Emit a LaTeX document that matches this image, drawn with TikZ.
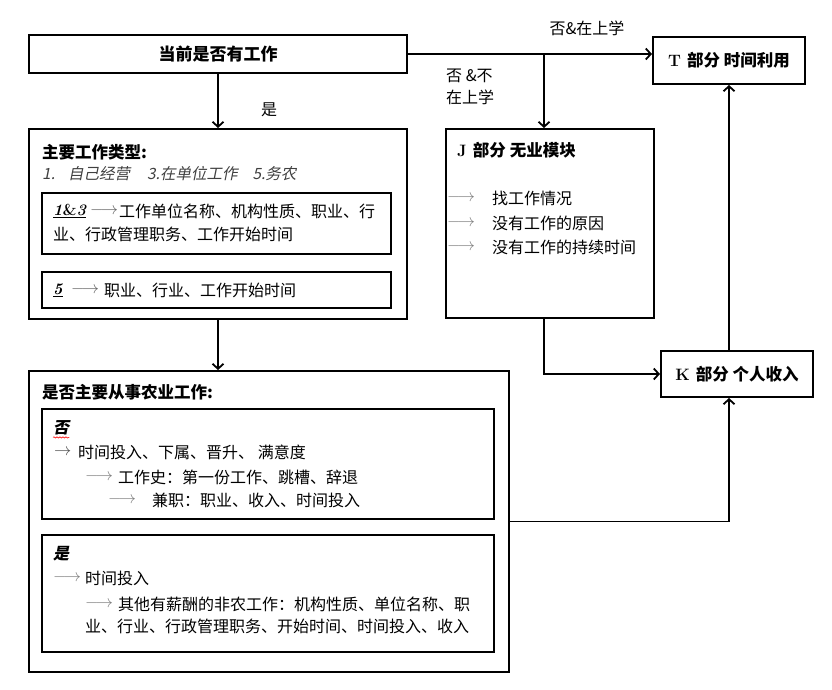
\documentclass[tikz,border=0pt]{standalone}
\usepackage{fontspec}
\newfontfamily\cjk{Noto Sans CJK SC}
\newfontfamily\cjkslant[FakeSlant=0.2]{Noto Sans CJK SC}
\usetikzlibrary{arrows.meta,decorations.pathmorphing}
\tikzset{
  box/.style={rectangle,draw,line width=2pt,inner sep=0pt},
  subbox/.style={rectangle,draw,line width=1.1pt,inner sep=0pt},
  txt/.style={anchor=west,inner sep=0pt,font=\cjk\fontsize{16}{22}\selectfont},
  head/.style={anchor=west,inner sep=0pt,font=\cjk\bfseries\fontsize{16.5}{20}\selectfont},
  arr/.style={line width=1.8pt,-{Straight Barb[length=5pt,width=11pt,line width=1.8pt]}},
  garrow/.style={txt,text=gray}
}

\begin{document}
\begin{tikzpicture}[x=1pt,y=-1pt]
    \useasboundingbox (0,0) rectangle (832,690);

    % main boxes
    \node[box,minimum width=378pt,minimum height=38pt,font=\cjk\bfseries\fontsize{17}{20}\selectfont] (now) at (218,54) {当前是否有工作};
    \node[box,minimum width=378pt,minimum height=190pt] (type) at (218,224) {};
    \node[subbox,minimum width=349pt,minimum height=61pt] (t13) at (216.5,223.5) {};
    \node[subbox,minimum width=349pt,minimum height=36pt] (t5) at (216.5,290) {};
    \node[box,minimum width=480pt,minimum height=301pt] (agri) at (269,521.5) {};
    \node[subbox,minimum width=452pt,minimum height=110pt] (nonag) at (268,464) {};
    \node[subbox,minimum width=452pt,minimum height=117pt] (isag) at (268,593.5) {};
    \node[box,minimum width=208pt,minimum height=189pt] (J) at (550,223.5) {};
    \node[box,minimum width=152pt,minimum height=47pt,font=\cjk\bfseries\fontsize{16.5}{20}\selectfont] (T) at (729,60.5) {\rmfamily\bfseries T\ \cjk 部分 时间利用};
    \node[box,minimum width=152pt,minimum height=46pt,font=\cjk\bfseries\fontsize{16.5}{20}\selectfont] (K) at (737,374) {\rmfamily\bfseries K\ \cjk 部分 个人收入};

    % work type
    \node[head] (typehead) at (42,152) {主要工作类型:};
    \node[txt,text=black!75,font=\cjkslant\fontsize{15.5}{20}\selectfont] (typelist) at (42,174) {1.\hspace{13pt}自己经营\hspace{17pt}3.在单位工作\hspace{15pt}5.务农};
    \node[txt] (t13a) at (53,211) {\underline{\rmfamily\bfseries\itshape 1\upshape\&\itshape 3}};
    \node[txt,text=black!60] (t13arr) at (90,211) {$\longrightarrow$};
    \node[txt] (t13b) at (119,211) {工作单位名称、机构性质、职业、行};
    \node[txt] (t13c) at (53,234) {业、行政管理职务、工作开始时间};
    \node[txt] (t5a) at (53,290) {\underline{\rmfamily\bfseries\itshape 5}};
    \node[txt,text=black!60] (t5arr) at (71,290) {$\longrightarrow$};
    \node[txt] (t5b) at (104,290) {职业、行业、工作开始时间};

    % agriculture
    \node[head] (agrihead) at (42,392) {是否主要从事农业工作:};
    \node[txt,font=\cjkslant\bfseries\fontsize{16}{20}\selectfont] (nohead) at (53,428) {否};
    \draw[red,line width=0.6pt,decorate,decoration={snake,amplitude=0.6pt,segment length=3pt}]
      ([yshift=-2pt]nohead.south west) -- ([yshift=-2pt]nohead.south east);
    \node[txt,text=black!70] (noarr1) at (54,452) {$\rightarrow$};
    \node[txt] (no1) at (78,452) {时间投入、下属、晋升、\ 满意度};
    \node[garrow] (noarr2) at (85,477) {$\longrightarrow$};
    \node[txt] (no2) at (118,477) {工作史：第一份工作、跳槽、辞退};
    \node[garrow] (noarr3) at (108,500) {$\longrightarrow$};
    \node[txt] (no3) at (152,500) {兼职：职业、收入、时间投入};

    \node[txt,font=\cjkslant\bfseries\fontsize{16}{20}\selectfont] (yeshead) at (53,554) {是};
    \node[garrow] (yesarr1) at (53,578) {$\longrightarrow$};
    \node[txt] (yes1) at (85,578) {时间投入};
    \node[garrow] (yesarr2) at (85,604) {$\longrightarrow$};
    \node[txt] (yes2) at (118,604) {其他有薪酬的非农工作：机构性质、单位名称、职};
    \node[txt] (yes3) at (85,626) {业、行业、行政管理职务、开始时间、时间投入、收入};

    % no work
    \node[head] (jhead) at (457,150) {\rmfamily\bfseries J\ \cjk 部分 无业模块};
    \foreach \y/\item [count=\i] in {198/找工作情况,223/没有工作的原因,247/没有工作的持续时间} {
      \node[garrow] (jarr\i) at (447,\y) {$\longrightarrow$};
      \node[txt] (jitem\i) at (492,\y) {\item};
    }

    % labels
    \node[txt,anchor=center] (yeslbl) at (269,110) {是};
    \node[txt,anchor=center] (schoollbl) at (587,28) {否\&在上学};
    \node[txt,align=left] (noschoollbl) at (446,87) {否 \&不\\在上学};

    % connectors
    \coordinate (fork) at (544,54);
    \draw[arr] (now) -- (type);
    \draw[arr] (type.south) -- (type.south |- agri.north);
    \draw[arr] (now.east) -- (now.east -| T.west);
    \draw[arr] (fork) -- (fork |- J.north);
    \draw[arr] (fork |- J.south) |- (K.west);
    \draw[arr] (agri.east) -| (K.south -| T.south);
    \draw[arr] (K.north -| T.south) -- (T.south);
\end{tikzpicture}
\end{document}
